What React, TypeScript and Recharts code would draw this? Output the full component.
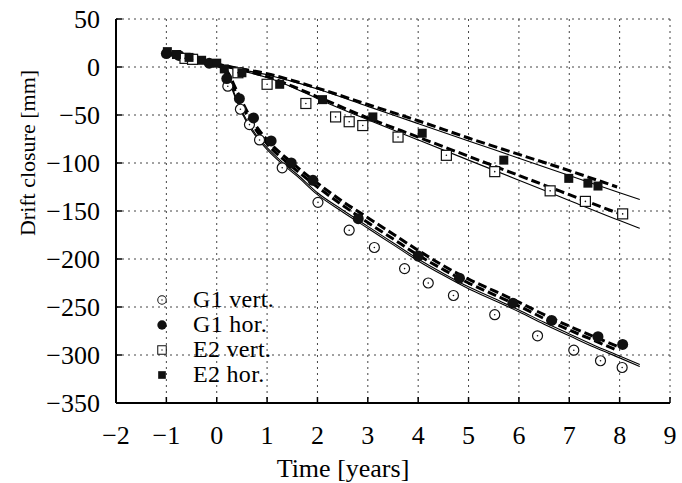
import React from 'react';
import {
  ComposedChart,
  Line,
  Scatter,
  XAxis,
  YAxis,
  CartesianGrid,
  Legend
} from 'recharts';

// measured points
const g1VertT = [0.22, 0.47, 0.65, 0.85, 1.3, 2.01, 2.63, 3.13, 3.73, 4.2, 4.7, 5.52, 6.37, 7.09, 7.62, 8.05];
const g1VertV = [-20, -44, -60, -76, -105, -141, -170, -188, -210, -225, -238, -258, -280, -295, -306, -313];

const g1HorT = [-1.0, -0.75, -0.45, -0.15, 0.2, 0.45, 0.73, 1.08, 1.48, 1.91, 2.81, 4.0, 4.82, 5.88, 6.65, 7.57, 8.06];
const g1HorV = [14, 12, 8, 4, -12, -33, -53, -77, -100, -118, -158, -197, -220, -246, -264, -281, -289];

const e2VertT = [-0.63, -0.48, 0.42, 1.0, 1.77, 2.36, 2.63, 2.9, 3.6, 4.56, 5.52, 6.62, 7.32, 8.06];
const e2VertV = [9, 8, -6, -18, -38, -52, -57, -61, -73, -92, -109, -129, -140, -153];

const e2HorT = [-0.98, -0.8, -0.55, -0.3, 0.0, 0.15, 0.5, 1.25, 2.1, 3.1, 4.08, 5.7, 6.99, 7.37, 7.57];
const e2HorV = [16, 13, 10, 7, 4, -2, -6, -18, -34, -52, -69, -97, -116, -121, -124];

// model curves
const e2FitT = [-1.05, -0.5, 0, 0.5, 1, 1.5, 2, 3, 4, 5, 6, 7, 8, 8.4];
const e2UpperSolid = [14, 8, 2, -3, -8, -15, -23, -41, -59, -77, -95, -113, -131, -138];
const e2LowerSolid = [14, 8, 2, -4, -11, -21, -33, -55, -76, -97, -118, -139, -160, -168];
const e2DashT = [-1.05, -0.5, 0, 0.5, 1, 1.5, 2, 3, 4, 5, 6, 7, 7.95];
const e2UpperDash = [15, 9, 3, -2, -7, -14, -22, -39, -56, -74, -91, -108, -125];
const e2LowerDash = [15, 9, 3, -3, -10, -20, -31, -53, -73, -93, -113, -133, -152];

const g1FitT = [-1.05, -0.5, 0, 0.2, 0.4, 0.6, 0.8, 1, 1.3, 1.6, 2, 2.5, 3, 3.5, 4, 4.5, 5, 5.5, 6, 6.5, 7, 7.5, 8, 8.4];
const g1Solid1 = [14, 8, 2, -10, -36, -58, -74, -86, -101, -114, -133, -151, -168, -185, -202, -217, -231, -243, -255, -268, -280, -292, -303, -312];
const g1Solid2 = [14, 8, 2, -9, -34, -56, -72, -84, -99, -112, -131, -149, -166, -183, -200, -215, -229, -241, -253, -266, -278, -290, -301, -310];
const g1DashT = [-1.05, -0.5, 0, 0.2, 0.4, 0.6, 0.8, 1, 1.5, 2, 2.5, 3, 3.5, 4, 4.5, 5, 5.5, 6, 6.5, 7, 7.5, 7.95];
const g1DashA = [15, 9, 3, -4, -25, -46, -63, -76, -100, -121, -140, -157, -174, -191, -207, -221, -233, -245, -258, -270, -281, -291];
const g1DashB = [14, 8, 2, -6, -29, -50, -67, -80, -104, -125, -144, -162, -179, -196, -211, -225, -237, -249, -262, -274, -285, -295];

const xTicks = [-2, -1, 0, 1, 2, 3, 4, 5, 6, 7, 8, 9];
const yTicks = [-350, -300, -250, -200, -150, -100, -50, 0, 50];
const legendNames = ['G1 vert.', 'G1 hor.', 'E2 vert.', 'E2 hor.'];

const zip = (t: number[], v: number[]) => t.map((x, i) => ({ t: x, v: v[i] }));

const font = '"Liberation Serif", "Times New Roman", serif';
const ink = '#111';
const minus = (v: number) => String(v).replace('-', '\u2212');

const OpenCircle = (p: any) => (
  <g>
    <circle cx={p.cx} cy={p.cy} r={5} fill="#fff" stroke={ink} strokeWidth={1.2} />
    <circle cx={p.cx} cy={p.cy} r={0.8} fill={ink} />
  </g>
);
const FilledCircle = (p: any) => <circle cx={p.cx} cy={p.cy} r={5.5} fill={ink} />;
const OpenSquare = (p: any) => (
  <g>
    <rect x={p.cx - 5} y={p.cy - 5} width={10} height={10} fill="#fff" stroke={ink} strokeWidth={1.2} />
    <circle cx={p.cx} cy={p.cy} r={0.8} fill={ink} />
  </g>
);
const FilledSquare = (p: any) => <rect x={p.cx - 4.5} y={p.cy - 4.5} width={9} height={9} fill={ink} />;

const legendShapes = [OpenCircle, FilledCircle, OpenSquare, FilledSquare];

function LegendBox() {
  return (
    <div style={{ fontFamily: font, fontSize: 24, lineHeight: '25px', color: '#000' }}>
      {legendNames.map((name, i) => {
        const Shape = legendShapes[i];
        return (
          <div key={name} style={{ display: 'flex', alignItems: 'center', height: 25 }}>
            <svg width={28} height={14} style={{ marginRight: 17 }}>
              <g transform="translate(14 7) scale(0.85) translate(-14 -7)">
                <Shape cx={14} cy={7} />
              </g>
            </svg>
            <span style={{ display: 'inline-block', height: 25, lineHeight: '25px', letterSpacing: 0.3 }}>{name}</span>
          </div>
        );
      })}
    </div>
  );
}

const XTick = (p: any) => (
  <text x={p.x} y={p.y + 18} textAnchor="middle" fontFamily={font} fontSize={26} fill="#000">
    {minus(p.payload.value)}
  </text>
);
const YTick = (p: any) => (
  <text x={p.x} y={p.y + 8.5} textAnchor="end" fontFamily={font} fontSize={26} fill="#000">
    {minus(p.payload.value)}
  </text>
);

const axisLine = { stroke: '#000', strokeWidth: 2 };
const tickLine = { stroke: '#000', strokeWidth: 1.5 };

export default function App() {
  const solid = { stroke: '#000', strokeWidth: 1.1, dot: false, isAnimationActive: false, legendType: 'none' as const, type: 'monotone' as const };
  const dashed = { stroke: '#000', strokeWidth: 3, strokeDasharray: '9 4', dot: false, isAnimationActive: false, legendType: 'none' as const, type: 'monotone' as const };

  return (
    <div style={{ position: 'absolute', left: 0, top: 0, background: '#fff', fontFamily: font }}>
      <ComposedChart width={682} height={483} margin={{ top: 19, right: 12, bottom: 0, left: 0 }}>
        <CartesianGrid stroke="#444" strokeDasharray="2 4" strokeWidth={1} />
        <XAxis
          dataKey="t"
          type="number"
          domain={[-2, 9]}
          ticks={xTicks}
          allowDataOverflow
          height={80}
          tickSize={-6}
          tickMargin={29}
          tick={<XTick />}
          axisLine={axisLine}
          tickLine={tickLine}
          label={() => (
            <text x={343} y={477} textAnchor="middle" fontFamily={font} fontSize={26} fill="#000">
              Time [years]
            </text>
          )}
        />
        <XAxis
          xAxisId="top"
          orientation="top"
          type="number"
          domain={[-2, 9]}
          ticks={xTicks}
          height={0}
          tickSize={-6}
          tick={false}
          axisLine={axisLine}
          tickLine={tickLine}
        />
        <YAxis
          dataKey="v"
          type="number"
          domain={[-350, 50]}
          ticks={yTicks}
          allowDataOverflow
          width={116}
          tickSize={-6}
          tickMargin={22}
          tick={<YTick />}
          axisLine={axisLine}
          tickLine={tickLine}
          label={() => (
            <text
              x={27}
              y={153}
              transform="rotate(-90 27 153)"
              textAnchor="middle"
              dominantBaseline="central"
              fontFamily={font}
              fontSize={22}
              fill="#000"
            >
              Drift closure [mm]
            </text>
          )}
        />
        <YAxis
          yAxisId="right"
          orientation="right"
          type="number"
          domain={[-350, 50]}
          ticks={yTicks}
          width={0}
          tickSize={-6}
          tick={false}
          axisLine={axisLine}
          tickLine={tickLine}
        />

        <Line data={zip(e2FitT, e2UpperSolid)} dataKey="v" {...solid} />
        <Line data={zip(e2FitT, e2LowerSolid)} dataKey="v" {...solid} />
        <Line data={zip(e2DashT, e2UpperDash)} dataKey="v" {...dashed} />
        <Line data={zip(e2DashT, e2LowerDash)} dataKey="v" {...dashed} />
        <Line data={zip(g1FitT, g1Solid1)} dataKey="v" {...solid} />
        <Line data={zip(g1FitT, g1Solid2)} dataKey="v" {...solid} />
        <Line data={zip(g1DashT, g1DashA)} dataKey="v" {...dashed} />
        <Line data={zip(g1DashT, g1DashB)} dataKey="v" {...dashed} />

        <Scatter name="G1 vert." data={zip(g1VertT, g1VertV)} shape={OpenCircle} isAnimationActive={false} />
        <Scatter name="G1 hor." data={zip(g1HorT, g1HorV)} shape={FilledCircle} isAnimationActive={false} />
        <Scatter name="E2 vert." data={zip(e2VertT, e2VertV)} shape={OpenSquare} isAnimationActive={false} />
        <Scatter name="E2 hor." data={zip(e2HorT, e2HorV)} shape={FilledSquare} isAnimationActive={false} />

        <Legend
          layout="vertical"
          align="center"
          verticalAlign="middle"
          wrapperStyle={{ left: 148, top: 287, width: 'auto', height: 'auto' }}
          content={() => <LegendBox />}
        />
      </ComposedChart>
    </div>
  );
}
